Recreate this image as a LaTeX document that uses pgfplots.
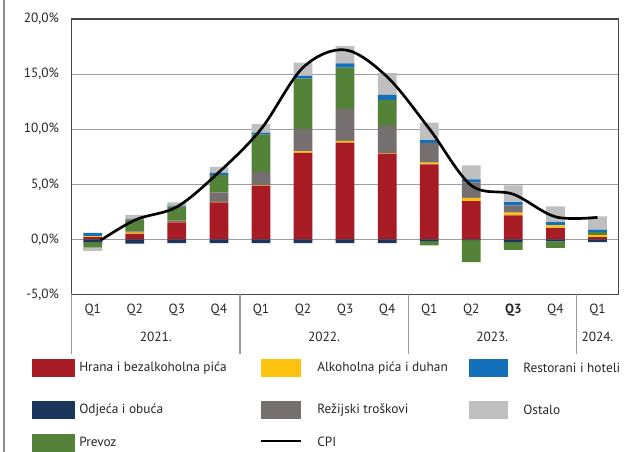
\documentclass[border=0pt]{standalone}
\usepackage{fontspec}
\setmainfont{PT Sans}
\usepackage{pgfplots}
\usepackage{pgfplotstable}
\pgfplotsset{compat=1.18}

\definecolor{hrana}{RGB}{166,27,36}
\definecolor{alk}{RGB}{255,194,14}
\definecolor{rest}{RGB}{20,112,186}
\definecolor{odj}{RGB}{27,54,93}
\definecolor{rez}{RGB}{117,112,111}
\definecolor{ost}{RGB}{191,191,191}
\definecolor{prev}{RGB}{84,130,56}

% doprinosi godisnjoj inflaciji, p.p.
\pgfplotstableread{
x  hrana alk  odj   rez  prev  rest ost   cpi
0  0.20  0.10 -0.25 0.00 -0.50 0.30 -0.28 -0.55
1  0.50  0.12 -0.38 0.10 1.10  0.05 0.35  1.75
2  1.55  0.05 -0.33 0.10 1.27  0.10 0.30  2.95
3  3.36  0.05 -0.33 0.85 1.60  0.18 0.55  6.10
4  4.88  0.05 -0.33 1.21 3.36  0.18 0.79  10.0
5  7.85  0.15 -0.33 2.00 4.60  0.24 1.21  15.6
6  8.79  0.15 -0.33 2.88 3.76  0.39 1.58  17.2
7  7.79  0.03 -0.33 2.48 2.36  0.45 1.97  14.75
8  6.82  0.15 -0.15 1.79 -0.40 0.24 1.60  10.05
9  3.48  0.30 -0.06 1.39 -2.00 0.27 1.27  4.90
10 2.18  0.24 -0.24 0.67 -0.70 0.30 1.52  4.10
11 1.03  0.24 -0.18 0.00 -0.58 0.30 1.42  2.05
12 0.20  0.18 -0.24 0.00 0.27  0.24 1.20  2.00
}\inflacija

\pgfplotsset{okvir/.style={
  scale only axis, width=410.1pt, height=206.6pt,
  xmin=-0.5, xmax=12.5, ymin=-5, ymax=20,
  clip=false, ybar stacked, bar width=0.445}}

\begin{document}
\fontsize{10}{12}\selectfont
\begin{tikzpicture}
% pozitivni doprinosi
\begin{axis}[
  okvir,
  ytick={-5,0,5,10,15,20},
  ymajorgrids, grid style={draw=black!38, line width=0.9pt},
  axis line style={draw=black!72, line width=0.9pt},
  major tick length=0pt,
  yticklabel={\pgfmathprintnumber[fixed,fixed zerofill,precision=1,use comma,assume math mode=true]{\tick}\%},
  yticklabel style={xshift=-6pt, text=black!85},
  xtick={0,...,12},
  xticklabels={Q1,Q2,Q3,Q4,Q1,Q2,Q3,Q4,Q1,Q2,\textbf{Q3},Q4,Q1},
  xticklabel style={anchor=center, yshift=-11.6pt, text=black!85},
  xtick pos=bottom,
  extra x ticks={-0.5,3.5,7.5,11.5},
  extra x tick labels={},
  extra x tick style={grid=none, major tick length=45pt, tick align=outside,
    tick style={draw=black!40, line width=0.9pt}},
]
\addplot[fill=hrana, draw=none] table[x=x, y expr={max(\thisrow{hrana},0)}] {\inflacija};
\addplot[fill=alk,   draw=none] table[x=x, y expr={max(\thisrow{alk},0)}]   {\inflacija};
\addplot[fill=odj,   draw=none] table[x=x, y expr={max(\thisrow{odj},0)}]   {\inflacija};
\addplot[fill=rez,   draw=none] table[x=x, y expr={max(\thisrow{rez},0)}]   {\inflacija};
\addplot[fill=prev,  draw=none] table[x=x, y expr={max(\thisrow{prev},0)}]  {\inflacija};
\addplot[fill=rest,  draw=none] table[x=x, y expr={max(\thisrow{rest},0)}]  {\inflacija};
\addplot[fill=ost,   draw=none] table[x=x, y expr={max(\thisrow{ost},0)}]   {\inflacija};

\node[text=black!85] at (axis cs:1.5,-5)  [yshift=-31.9pt] {2021.};
\node[text=black!85] at (axis cs:5.5,-5)  [yshift=-31.9pt] {2022.};
\node[text=black!85] at (axis cs:9.5,-5)  [yshift=-31.9pt] {2023.};
\node[text=black!85] at (axis cs:12,-5)   [yshift=-31.9pt] {2024.};
\end{axis}
% negativni doprinosi i CPI
\begin{axis}[okvir, hide axis]
\addplot[fill=odj,   draw=none] table[x=x, y expr={min(\thisrow{odj},0)}]   {\inflacija};
\addplot[fill=prev,  draw=none] table[x=x, y expr={min(\thisrow{prev},0)}]  {\inflacija};
\addplot[fill=ost,   draw=none] table[x=x, y expr={min(\thisrow{ost},0)}]   {\inflacija};
\addplot[stack plots=false, smooth, tension=0.55, black, line width=2pt, mark=none]
  table[x=x, y=cpi] {\inflacija};
\end{axis}

% legenda i okvir, u pikselima slike
\begin{scope}[x=0.75pt, y=-0.75pt, shift={(-53.775pt,220.875pt)}]
  \draw[black!45, line width=0.8pt] (4,0) -- (4,452);
  \fill[hrana] (32,359) rectangle (75,377);
  \node[anchor=west, text=black!85, inner sep=0pt] at (79,368) {Hrana i bezalkoholna pića};
  \fill[alk] (261,359) rectangle (301,377);
  \node[anchor=west, text=black!85, inner sep=0pt] at (317,368) {Alkoholna pića i duhan};
  \fill[rest] (469,359) rectangle (508,377);
  \node[anchor=west, text=black!85, inner sep=0pt] at (523,368) {Restorani i hoteli};
  \fill[odj] (32,401) rectangle (75,419);
  \node[anchor=west, text=black!85, inner sep=0pt] at (79,410) {Odjeća i obuća};
  \fill[rez] (261,401) rectangle (301,419);
  \node[anchor=west, text=black!85, inner sep=0pt] at (317,410) {Režijski troškovi};
  \fill[ost] (469,401) rectangle (508,419);
  \node[anchor=west, text=black!85, inner sep=0pt] at (523,410) {Ostalo};
  \fill[prev] (32,434) rectangle (75,452);
  \node[anchor=west, text=black!85, inner sep=0pt] at (79,442) {Prevoz};
  \draw[black, line width=2pt] (261,441) -- (301,441);
  \node[anchor=west, text=black!85, inner sep=0pt] at (317,442) {CPI};
  \pgfresetboundingbox
  \path[use as bounding box] (0,0) rectangle (628,452);
\end{scope}
\end{tikzpicture}
\end{document}
